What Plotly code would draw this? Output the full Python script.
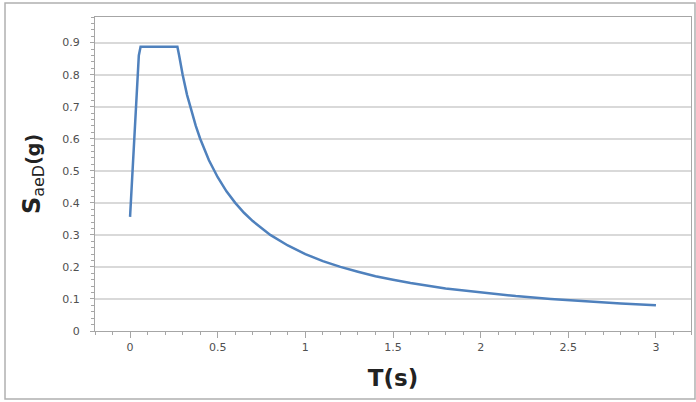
import plotly.graph_objects as go

# Period T (s) and spectral acceleration SaeD (g)
T = [0.0, 0.05, 0.06, 0.27, 0.28, 0.29, 0.30, 0.325, 0.35, 0.375, 0.40, 0.45, 0.50, 0.55,
     0.60, 0.65, 0.70, 0.80, 0.90, 1.00, 1.10, 1.20, 1.30, 1.40, 1.50, 1.60,
     1.80, 2.00, 2.20, 2.40, 2.60, 2.80, 3.00]
S = [0.356, 0.860, 0.887, 0.887, 0.860, 0.828, 0.800, 0.737, 0.685, 0.640, 0.600, 0.533,
     0.480, 0.436, 0.400, 0.369, 0.343, 0.300, 0.267, 0.240, 0.218, 0.200, 0.185,
     0.171, 0.160, 0.150, 0.133, 0.120, 0.109, 0.100, 0.092, 0.086, 0.080]

x_ticks = [0, 0.5, 1, 1.5, 2, 2.5, 3]
x_tick_labels = ["0", "0.5", "1", "1.5", "2", "2.5", "3"]
y_ticks = [0, 0.1, 0.2, 0.3, 0.4, 0.5, 0.6, 0.7, 0.8, 0.9]
y_tick_labels = ["0", "0.1", "0.2", "0.3", "0.4", "0.5", "0.6", "0.7", "0.8", "0.9"]

fig = go.Figure()
fig.add_trace(go.Scatter(x=T, y=S, mode="lines",
                         line=dict(color="#4f81bd", width=2.5),
                         showlegend=False, hoverinfo="x+y"))

tick_font = dict(family="DejaVu Sans", size=11, color="#505050")
axis_col = "#a6a6a6"

fig.update_layout(
    width=696, height=402,
    margin=dict(l=95, r=5, t=17, b=71),
    paper_bgcolor="white", plot_bgcolor="white",
    xaxis=dict(range=[-0.2, 3.2], tickmode="array", tickvals=x_ticks,
               ticktext=x_tick_labels, showgrid=False, zeroline=False,
               showline=True, linecolor=axis_col, linewidth=1, mirror=True,
               ticks="outside", ticklen=6, tickcolor=axis_col,
               minor=dict(dtick=0.1, tick0=0, ticks="outside", ticklen=3,
                          tickcolor=axis_col, showgrid=False),
               tickfont=tick_font, automargin=False,
               title=dict(text="<b>T(s)</b>",
                          font=dict(family="DejaVu Sans", size=23, color="#222222"),
                          standoff=16)),
    yaxis=dict(range=[0, 0.98], tickmode="array", tickvals=y_ticks,
               ticktext=y_tick_labels, showgrid=True, gridcolor="#d9d9d9",
               gridwidth=1.5, zeroline=False,
               showline=True, linecolor=axis_col, linewidth=1, mirror=True,
               ticks="outside", ticklen=4, tickcolor=axis_col,
               minor=dict(dtick=0.02, tick0=0, ticks="outside", ticklen=3,
                          tickcolor=axis_col, showgrid=False),
               ticklabelstandoff=8,
               tickfont=tick_font, automargin=False,
               title=dict(text="<b><span style='font-size:24px'>S</span></b>"
                               "<sub><span style='font-size:16px'>aeD</span></sub>"
                               "<b>(g)</b>",
                          font=dict(family="DejaVu Sans", size=19, color="#222222"),
                          standoff=16)),
    shapes=[dict(type="rect", xref="paper", yref="paper",
                 x0=-0.151, x1=1.0067, y0=-0.2166, y1=1.0446,
                 line=dict(color="#b0b0b0", width=1.5), layer="below")],
)

fig.write_html("out.html", config={"displayModeBar": False},
               post_script="document.body.style.margin='0';")
